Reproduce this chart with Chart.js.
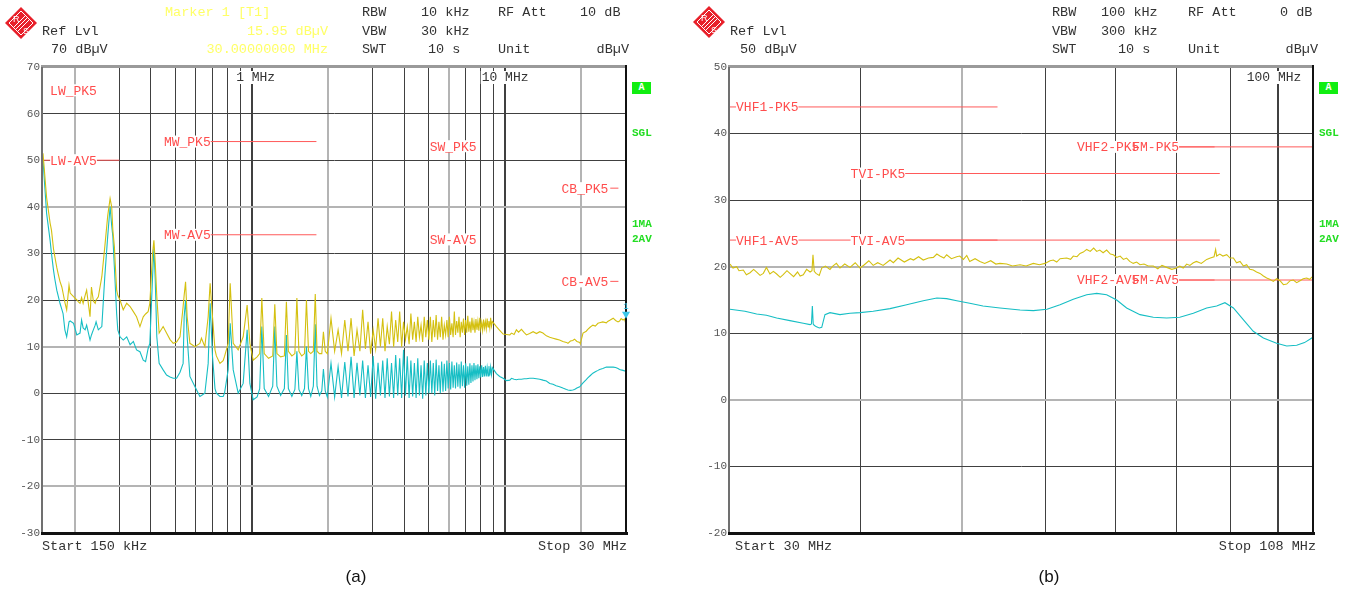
<!DOCTYPE html>
<html><head><meta charset="utf-8">
<script src="https://cdn.jsdelivr.net/npm/chart.js@4.4.1/dist/chart.umd.min.js"></script>
<style>
html,body{margin:0;padding:0;background:#fff;}
#wrap{position:relative;width:1347px;height:590px;overflow:hidden;background:#fff;}
canvas{position:absolute;top:0;}
.t{position:absolute;font-family:"Liberation Mono","DejaVu Sans Mono",monospace;font-size:13.5px;line-height:16px;color:#333;white-space:pre;}
.y{color:#ffff66;}
.g{position:absolute;font-family:"Liberation Mono",monospace;font-weight:bold;font-size:11px;line-height:12px;color:#22dd22;white-space:pre;}
.box{position:absolute;width:19px;height:12px;background:#11ee11;color:#fff;font:bold 10px "Liberation Mono",monospace;text-align:center;line-height:12px;}
.cap{position:absolute;width:40px;text-align:center;font-family:"Liberation Sans",Arial,sans-serif;font-size:17px;line-height:20px;color:#111;}
.logo{position:absolute;}
</style></head>
<body><div id="wrap">
<canvas id="ca" width="673" height="590" style="left:0"></canvas>
<canvas id="cb" width="674" height="590" style="left:673px"></canvas>

<svg class="logo" style="left:4px;top:6px" width="34" height="34" viewBox="0 0 34 34">
 <polygon points="17,1 33,17 17,33 1,17" fill="#e8202a"/>
 <polygon points="17,5 29,17 17,29 5,17" fill="none" stroke="#fff" stroke-width="1"/>
 <g stroke="#fff" stroke-width="1"><line x1="22" y1="9" x2="9" y2="22"/><line x1="24" y1="11" x2="11" y2="24"/><line x1="26" y1="13" x2="13" y2="26"/></g>
 <text x="9" y="16" font-size="9" font-family="Liberation Sans" fill="#fff">R</text>
 <text x="19" y="28" font-size="9" font-family="Liberation Sans" fill="#fff">S</text>
</svg>
<svg class="logo" style="left:692px;top:5px" width="34" height="34" viewBox="0 0 34 34">
 <polygon points="17,1 33,17 17,33 1,17" fill="#e8202a"/>
 <polygon points="17,5 29,17 17,29 5,17" fill="none" stroke="#fff" stroke-width="1"/>
 <g stroke="#fff" stroke-width="1"><line x1="22" y1="9" x2="9" y2="22"/><line x1="24" y1="11" x2="11" y2="24"/><line x1="26" y1="13" x2="13" y2="26"/></g>
 <text x="9" y="16" font-size="9" font-family="Liberation Sans" fill="#fff">R</text>
 <text x="19" y="28" font-size="9" font-family="Liberation Sans" fill="#fff">S</text>
</svg>

<div class="t" style="left:42px;top:24px">Ref Lvl</div>
<div class="t" style="left:51px;top:42px">70 dBµV</div>
<div class="t y" style="left:165px;top:5px">Marker 1 [T1]</div>
<div class="t y" style="right:1019px;top:24px">15.95 dBµV</div>
<div class="t y" style="right:1019px;top:42px">30.00000000 MHz</div>
<div class="t" style="left:362px;top:5px">RBW</div>
<div class="t" style="left:421px;top:5px">10 kHz</div>
<div class="t" style="left:498px;top:5px">RF Att</div>
<div class="t" style="left:580px;top:5px">10 dB</div>
<div class="t" style="left:362px;top:24px">VBW</div>
<div class="t" style="left:421px;top:24px">30 kHz</div>
<div class="t" style="left:362px;top:42px">SWT</div>
<div class="t" style="left:428px;top:42px">10 s</div>
<div class="t" style="left:498px;top:42px">Unit</div>
<div class="t" style="right:718px;top:42px">dBµV</div>

<div class="t" style="left:730px;top:24px">Ref Lvl</div>
<div class="t" style="left:740px;top:42px">50 dBµV</div>
<div class="t" style="left:1052px;top:5px">RBW</div>
<div class="t" style="left:1101px;top:5px">100 kHz</div>
<div class="t" style="left:1188px;top:5px">RF Att</div>
<div class="t" style="left:1280px;top:5px">0 dB</div>
<div class="t" style="left:1052px;top:24px">VBW</div>
<div class="t" style="left:1101px;top:24px">300 kHz</div>
<div class="t" style="left:1052px;top:42px">SWT</div>
<div class="t" style="left:1118px;top:42px">10 s</div>
<div class="t" style="left:1188px;top:42px">Unit</div>
<div class="t" style="right:29px;top:42px">dBµV</div>

<div class="t" style="left:42px;top:539px">Start 150 kHz</div>
<div class="t" style="right:720px;top:539px">Stop 30 MHz</div>
<div class="t" style="left:735px;top:539px">Start 30 MHz</div>
<div class="t" style="right:31px;top:539px">Stop 108 MHz</div>
<div class="cap" style="left:336px;top:567px">(a)</div>
<div class="cap" style="left:1029px;top:567px">(b)</div>

<div class="box" style="left:632px;top:82px">A</div>
<div class="g" style="left:632px;top:127px">SGL</div>
<div class="g" style="left:632px;top:218px">1MA</div>
<div class="g" style="left:632px;top:233px">2AV</div>
<div class="box" style="left:1319px;top:82px">A</div>
<div class="g" style="left:1319px;top:127px">SGL</div>
<div class="g" style="left:1319px;top:218px">1MA</div>
<div class="g" style="left:1319px;top:233px">2AV</div>
</div>
<script>
// ---------- Panel (a): 150 kHz - 30 MHz ----------
const aFreq = [
 0.150,0.155,0.160,0.162,0.165,0.167,0.170,0.172,0.175,0.178,
 0.180,0.183,0.186,0.190,0.192,0.198,0.204,0.207,0.210,0.213,
 0.216,0.220,0.223,0.230,0.233,0.237,0.241,0.243,0.248,0.256,
 0.263,0.270,0.276,0.280,0.283,0.287,0.289,0.293,0.296,0.302,
 0.311,0.321,0.331,0.341,0.351,0.362,0.373,0.381,0.390,0.396,
 0.406,0.411,0.416,0.422,0.431,0.447,0.461,0.476,0.490,0.505,
 0.521,0.536,0.541,0.548,0.556,0.570,0.597,0.624,0.633,0.653,
 0.673,0.685,0.700,0.716,0.725,0.749,0.771,0.781,0.807,0.822,
 0.845,0.884,0.925,0.959,0.983,1.013,1.050,1.075,1.096,1.120,
 1.165,1.210,1.233,1.257,1.300,1.345,1.370,1.395,1.440,1.480,
 1.507,1.535,1.575,1.615,1.644,1.675,1.710,1.750,1.781,1.810,
 1.850,1.890,1.918,1.950,1.987,2.055,2.124,2.192,2.261,2.329,
 2.398,2.466,2.535,2.603,2.672,2.740,2.809,2.877,2.946,3.014,
 3.083,3.151,3.220,3.288,3.357,3.425,3.494,3.562,3.631,3.699,
 3.768,3.836,3.905,3.973,4.042,4.110,4.179,4.247,4.316,4.384,
 4.453,4.521,4.590,4.658,4.727,4.795,4.864,4.932,5.001,5.069,
 5.138,5.206,5.275,5.343,5.412,5.480,5.549,5.617,5.686,5.754,
 5.823,5.891,5.960,6.028,6.097,6.165,6.234,6.302,6.371,6.439,
 6.508,6.576,6.645,6.713,6.782,6.850,6.919,6.987,7.056,7.124,
 7.193,7.261,7.330,7.398,7.467,7.535,7.604,7.672,7.741,7.809,
 7.878,7.946,8.015,8.083,8.152,8.220,8.289,8.357,8.426,8.494,
 8.563,8.631,8.700,8.768,8.837,8.905,9.24,9.52,9.82,10.13,
 10.43,10.6,10.85,11.08,11.3,11.6,11.9,12.14,12.5,12.9,
 13.3,13.7,14.1,14.55,15.0,15.45,15.9,16.4,16.9,17.46,
 17.7,18.1,18.5,18.8,19.2,19.7,19.8,20.3,20.9,21.2,
 21.7,22.2,22.7,23.25,23.6,24.3,25.1,25.4,26.0,26.7,
 27.3,27.9,28.3,28.7,29.2,29.6,30.0
];
const aPeak = [
 51.5,42,36.5,35,31,29.3,27,25.7,24,22.8,
 21.5,19.5,17.9,23.2,21.5,20.7,20,19.6,19.3,20.5,
 19.3,21,22.1,16.4,22.8,19.8,19.3,20,20.7,25,
 31.4,38,41.8,40,35,31.4,28,22.1,21,20,
 17.9,19.3,18.6,17.5,16.4,14.3,16.4,17,17.5,19.3,
 30,32.8,28,20.7,12.9,14.3,12.9,11.5,10.7,11,
 12.1,18.6,21,23.9,16.4,10.7,10,10.7,11.8,10,
 16.4,23.6,16.4,9.3,8,6.4,7,7.9,10.7,23.6,
 10.7,9.3,12.1,18.9,10.7,7.1,7.8,8.5,20.4,8.5,
 7.5,8,19.1,8.5,7.8,8,19.6,9,8,8.5,
 20.4,9,8,8.5,20,9,8.5,9,21.3,9,
 8.5,8.5,13.2,9,8.5,16.1,9,13.6,8.5,15.7,
 9,16.1,8,13.6,9,17.9,9.5,15.3,8.5,13.6,
 9.5,16.1,10,16.1,9,14.3,10.5,17.5,10,15.7,
 11,17.5,10,15.3,11.5,14.3,10.5,17.1,11.5,15.3,
 11,16.4,12,14.6,11,16.4,12,15.7,11.5,16.4,
 11,15.7,12,16.8,11.5,15.3,12,16.4,11.5,14.6,
 12.5,15.7,12,16.4,12.5,15,12,17.5,12.5,15.5,
 13,16.4,12,15.3,13,16,12.5,15.7,13,16.6,
 13.2,15.4,13,16.2,13.5,15.3,13,15.9,13.6,15.5,
 13.4,16.2,13.8,15.2,13.5,15.8,14,15.4,13.8,16,
 14.2,15.5,14,16.2,14.4,15.4,14.3,13.5,12.7,12.6,
 12.5,12.9,12.6,13.6,13.1,13.7,13.0,12.5,12.8,13.2,
 12.8,13.2,12.9,12.3,12.0,11.8,11.6,11.4,11.1,10.9,
 10.7,11.2,11.3,11.6,11.1,10.9,10.6,12.9,13.3,13.7,
 14.2,14.6,14.4,15,15.1,15.3,15.1,15.4,15.7,16.1,
 15.6,15.3,15.5,16.0,15.7,15.9,14.8
];
const aAverage = [
 50,38.6,32.8,30,26.4,24.5,22.1,21,19.3,18,
 17.1,13.6,12.1,15.3,15.5,15,12.5,12.7,12.9,15.7,
 14,13.6,14.6,11.4,12.5,13.6,14.6,15.3,13.6,14.3,
 25,33.6,40,36,33.6,27,23.6,17,13.6,12.1,
 11.4,12.1,10.4,11.1,9.3,8.9,7.1,6.8,9.6,10.7,
 25,31.1,24.3,12.1,6.4,5,3.9,3.5,3.2,3.2,
 4.5,6.4,16.4,20,12.1,3.6,1.4,-0.7,-0.5,0,
 6.4,19.3,7.9,1,0,-0.7,-0.7,0,5,15,
 5,0,2.1,13.6,2.1,-1.4,-0.8,1,14.3,1,
 -0.7,1.5,14.3,1.5,-0.5,1,12.5,1,-0.7,0.8,
 9,0.8,-0.5,1,10,1,-0.7,1.5,14.8,1.5,
 -0.5,0.5,5.2,0.5,-0.8,6.4,-0.8,5.7,-1,6.7,
 -0.7,7.8,-1,6.5,-0.5,7,-1,6,-0.8,8,
 -1.2,6.5,-0.5,7,-1,7.5,-0.7,6.5,-1,8.2,
 -0.5,7.5,-1,9.3,-0.5,7.9,-1,7,-0.7,6.5,
 -1,7.5,-0.5,6,-1.2,7,-0.5,6.5,0,7,
 0,6.5,-0.5,7.2,0.5,6,0,6.8,0.3,6.3,
 0.5,7,1,6.5,0.8,6.8,1.2,6,1,6.6,
 1.4,6.2,1,6.8,1.5,6,1.2,6.4,1.6,5.8,
 1.8,6.4,2.2,6,2.5,6.5,2.8,6,3,6.2,
 3.2,5.8,3.4,6,3.5,5.6,3.6,5.9,3.6,5.5,
 3.7,5.8,3.8,5.6,4,5.5,4.2,3.6,3.2,2.7,
 2.8,3.2,3.0,2.9,3.0,3,3.1,3.1,3.2,3.2,
 3.1,3,2.8,2.6,2.1,1.9,1.6,1.4,1.1,0.8,
 0.7,0.6,0.7,0.8,1.1,1.4,1.5,2.2,2.9,3.3,
 3.8,4.3,4.6,4.9,5.1,5.3,5.6,5.6,5.6,5.6,
 5.5,5.3,5.1,5.0,4.9,4.8,4.8
];
const aGridFreq = [0.2,0.3,0.4,0.5,0.6,0.7,0.8,0.9,1,2,3,4,5,6,7,8,9,10,20];
const aGridLight = [0.2,2,6,20];
const aGridBold = [1,10];
const aYLight = [40,10,-20];
const aLimitStart = [0.15,0.15,0.53,0.53,5.9,5.9,26,26];
const aLimitStop  = [0.3,0.3,1.8,1.8,6.2,6.2,28,28];
const aLimitLevel = [70,50,54,34,53,33,44,24];
const aLabelText  = ['LW_PK5','LW-AV5','MW_PK5','MW-AV5','SW_PK5','SW-AV5','CB_PK5','CB-AV5'];
const aLabelFreq  = [0.16,0.16,0.45,0.45,5.04,5.04,16.7,16.7];
const aLabelLevel = [65,50,54,34,53,33,44,24];
const aDecadeFreq = [1,10];
const aDecadeText = ['1 MHz','10 MHz'];
const aDecadePre  = ['1 ','10 '];
const markerFreq = 30, markerLevel = 15.95;

// ---------- Panel (b): 30 MHz - 108 MHz ----------
const bPeakFreq = [
 30,30.2,30.44,30.6,30.89,31.1,31.35,31.6,31.81,32.05,
 32.28,32.5,32.75,33.0,33.24,33.5,33.72,34.0,34.22,34.5,
 34.8,35.0,35.24,35.5,35.77,35.92,36.0,36.1,36.24,36.5,
 36.7,37.0,37.37,37.6,37.9,38.2,38.6,39.05,39.5,39.92,
 40.3,40.7,41.09,41.5,42.0,42.64,42.95,43.4,44.0,44.6,
 44.9,45.4,45.87,46.4,46.9,47.26,47.58,48.0,48.29,48.8,
 49.37,49.7,50.1,50.47,50.8,51.4,51.95,52.5,53.2,53.8,
 54.29,55.1,55.8,56.74,57.5,58.42,59.2,59.94,60.6,61.04,
 61.5,61.95,62.87,63.4,63.78,64.3,64.73,65.2,65.69,66.2,
 66.7,67.15,67.6,68.1,68.63,69.2,69.65,70.16,70.7,71.2,
 71.71,72.2,72.76,73.3,73.85,74.5,75.2,76.04,76.8,77.5,
 78.31,79.2,80.04,80.6,81.2,81.83,82.4,83.03,83.6,84.5,
 85.5,86.2,86.9,87.2,87.4,88.0,88.6,89.35,90.0,90.67,
 91.3,92.0,92.7,93.35,94.0,94.72,95.4,96.13,96.85,97.55,
 98.2,98.98,99.7,100.45,101.2,101.94,102.7,103.43,104.2,104.96,
 105.7,106.5,107.2,108
];
const bPeak = [
 20.4,19.8,20,19.4,19.5,18.8,19.1,19.6,19.2,18.7,
 19,19.9,18.9,19.3,18.9,18.4,18.8,19.4,19,18.5,
 19.2,18.6,18.8,19.6,19.2,19.4,21.8,19.3,19,18.7,
 19.8,20.1,19.6,20.1,20.5,19.8,20.4,19.9,20.6,19.8,
 20.3,20.9,20.2,20.6,20.2,21,20.6,21.3,20.7,21.2,
 21,21.5,21,21.3,21.4,21.9,21.6,21.3,21.8,21.2,
 21.5,21.6,21.1,21.7,20.8,21.2,20.8,20.5,20.9,20.4,
 20.5,20.4,20.1,20.3,20.1,20.5,20.3,20.5,20.9,21,
 20.7,21.2,21.3,21.1,21.6,21.5,22,22.2,22.6,22.3,
 22.8,22.3,22.5,22.1,22.5,21.9,21.8,21.4,21.6,21.1,
 21.3,20.8,20.5,20.7,20.3,20.4,20.1,20.1,19.7,20.2,
 19.9,19.6,19.8,20.1,19.8,20.4,20.2,20.6,20.8,20.5,
 21.1,21.3,21.5,22.6,21.6,21.9,21.6,21.8,21.3,21.3,
 20.6,20.8,20.1,20.3,19.6,19.5,19.2,19,18.6,18.3,
 18.1,17.8,18.2,17.9,17.3,17.4,17.9,18,17.6,17.9,
 18.2,18.3,18.1,18.6
];
const bAverageFreq = [
 30,31.0,31.81,32.5,33.24,34.22,35.24,35.77,35.88,35.95,
 36.02,36.1,36.24,36.5,36.7,36.96,37.37,38.2,39.05,39.92,
 41.09,42.64,44.23,45.87,47.26,48.29,49.37,50.8,52.3,54.29,
 56.74,58.42,60.2,61.95,63.78,65.69,67.15,68.63,70.16,71.71,
 73.85,76.04,78.31,80.6,83.03,85.5,87.4,89.0,90.67,92.7,
 94.72,96.85,99.7,101.94,104.2,106.0,108
];
const bAverage = [
 13.6,13.3,12.9,12.7,12.3,11.9,11.5,11.3,11.4,14.1,
 11.4,11.2,11,10.8,10.9,12.8,13.1,12.8,13,13.1,
 13.3,13.7,14.3,14.9,15.3,15.2,14.9,14.5,14.1,13.8,
 13.5,13.4,13.6,14.3,15.1,15.8,16,15.8,15,13.8,
 12.8,12.4,12.3,12.4,13,13.8,14.1,14.6,13.8,12,
 10.3,9.3,8.5,8.1,8.2,8.6,9.4
];
const bGridFreq = [40,50,60,70,80,90,100];
const bGridLight = [50];
const bGridBold = [100];
const bYLight = [20,0];
const bLimitStart = [30,30,41,41,68,68,76,76];
const bLimitStop  = [54,54,88,88,87,87,108,108];
const bLimitLevel = [44,24,34,24,38,18,38,18];
const bLabelText  = ['VHF1-PK5','VHF1-AV5','TVI-PK5','TVI-AV5','VHF2-PK5','VHF2-AV5','FM-PK5','FM-AV5'];
const bLabelFreq  = [30.4,30.4,39.1,39.1,64.3,64.3,72.6,72.6];
const bLabelLevel = [44,24,34,24,38,18,38,18];
const bDecadeFreq = [100];
const bDecadeText = ['100 MHz'];
const bDecadePre  = ['100 '];

// ---------- drawing ----------
const YEL = '#d4c010', CYAN = '#16bec4', RED = '#ff5a5a', LABELRED = '#ff4d4d';
const MONO = '"Liberation Mono", "DejaVu Sans Mono", monospace';

function pts(xs, ys){ return xs.map((x,i)=>({x:x, y:ys[i]})); }
function limitSets(st, sp, lv){
  return lv.map((l,i)=>({data:[{x:st[i],y:l},{x:sp[i],y:l}], borderColor:RED, borderWidth:1,
    pointRadius:0, order:3, tension:0}));
}

function panelPlugin(o){
  return {
    id:'panel_'+o.key,
    afterDatasetsDraw(chart){
      const ctx = chart.ctx, a = chart.chartArea, x = chart.scales.x, y = chart.scales.y;
      ctx.save();
      ctx.font = '13px ' + MONO;
      ctx.textBaseline = 'middle';
      ctx.textAlign = 'left';
      o.decFreq.forEach((f,i)=>{
        const px = x.getPixelForValue(f);
        const pre = ctx.measureText(o.decPre[i]).width;
        const w = ctx.measureText(o.decText[i]).width;
        const lx = px - pre, cy = a.top + 10;
        ctx.fillStyle = '#fff'; ctx.fillRect(lx-1, cy-6, w+2, 13);
        ctx.fillStyle = '#333'; ctx.fillText(o.decText[i], lx, cy+1);
      });
      const lab = o.labText.map((t,i)=>({t:t, x:x.getPixelForValue(o.labFreq[i]),
        y:y.getPixelForValue(o.labLevel[i]), w:ctx.measureText(t).width}));
      ctx.fillStyle = '#fff';
      lab.forEach(p=>ctx.fillRect(p.x, p.y-6, p.w, 12));
      ctx.fillStyle = LABELRED;
      lab.forEach(p=>ctx.fillText(p.t, p.x, p.y+1));
      ctx.restore();
    },
    afterDraw(chart){
      const ctx = chart.ctx, a = chart.chartArea, x = chart.scales.x, y = chart.scales.y;
      const w = a.right - a.left, h = a.bottom - a.top;
      ctx.save();
      ctx.fillStyle = '#9a9a9a'; ctx.fillRect(a.left-2, a.top-2, w+3, 3);
      ctx.fillStyle = '#707070'; ctx.fillRect(a.left-2, a.top, 2, h);
      ctx.fillStyle = '#111'; ctx.fillRect(a.left-2, a.bottom-1, w+4, 3);
      ctx.fillStyle = '#111'; ctx.fillRect(a.right-1, a.top-2, 2, h+3);
      if (o.marker){
        const mx = x.getPixelForValue(o.marker[0]), my = y.getPixelForValue(o.marker[1]);
        ctx.fillStyle = '#3cc8ea';
        ctx.beginPath(); ctx.moveTo(mx-4, my-7); ctx.lineTo(mx+4, my-7); ctx.lineTo(mx, my); ctx.closePath(); ctx.fill();
        ctx.font = '9px ' + MONO; ctx.textAlign = 'center'; ctx.textBaseline = 'middle';
        ctx.fillText('1', mx, my-12);
      }
      ctx.restore();
    }
  };
}

function build(id, o){
  const inList = (arr, c) => !!(c.tick && arr.some(v => Math.abs(v - c.tick.value) < 1e-9));
  return new Chart(document.getElementById(id), {
    type:'line',
    data:{datasets:[
      {data:pts(o.pkF, o.pk), borderColor:YEL, borderWidth:1.1, pointRadius:0, order:1, tension:0},
      {data:pts(o.avF, o.av), borderColor:CYAN, borderWidth:1.1, pointRadius:0, order:2, tension:0}
    ].concat(limitSets(o.limSt, o.limSp, o.limLv))},
    options:{
      responsive:false, animation:false, events:[],
      layout:{padding:{left:o.padL, right:o.padR, top:67, bottom:57}},
      plugins:{legend:{display:false}, tooltip:{enabled:false}},
      scales:{
        x:{type:'logarithmic', min:o.xmin, max:o.xmax,
          ticks:{display:false}, border:{display:false},
          grid:{drawTicks:false,
            color:c => inList(o.gLight, c) ? '#b4b4b4' : '#404040',
            lineWidth:c => (inList(o.gLight, c) || inList(o.gBold, c)) ? 2 : 1},
          afterBuildTicks:s => { s.ticks = o.grid.map(v=>({value:v})); },
          afterFit:s => { s.height = 0; }},
        y:{min:o.ymin, max:o.ymax,
          ticks:{stepSize:10, color:'#555', font:{family:MONO, size:11}, padding:3},
          border:{display:false},
          grid:{drawTicks:false,
            color:c => inList(o.yLight, c) ? '#b4b4b4' : '#404040',
            lineWidth:c => inList(o.yLight, c) ? 2 : 1},
          afterFit:s => { s.width = 43; }}
      }
    },
    plugins:[panelPlugin(o)]
  });
}

build('ca', {key:'a', pkF:aFreq, pk:aPeak, avF:aFreq, av:aAverage,
  limSt:aLimitStart, limSp:aLimitStop, limLv:aLimitLevel,
  labText:aLabelText, labFreq:aLabelFreq, labLevel:aLabelLevel,
  decFreq:aDecadeFreq, decText:aDecadeText, decPre:aDecadePre,
  grid:aGridFreq, gLight:aGridLight, gBold:aGridBold, yLight:aYLight,
  xmin:0.15, xmax:30, ymin:-30, ymax:70, padL:0, padR:47, marker:[markerFreq, markerLevel]});

build('cb', {key:'b', pkF:bPeakFreq, pk:bPeak, avF:bAverageFreq, av:bAverage,
  limSt:bLimitStart, limSp:bLimitStop, limLv:bLimitLevel,
  labText:bLabelText, labFreq:bLabelFreq, labLevel:bLabelLevel,
  decFreq:bDecadeFreq, decText:bDecadeText, decPre:bDecadePre,
  grid:bGridFreq, gLight:bGridLight, gBold:bGridBold, yLight:bYLight,
  xmin:30, xmax:108, ymin:-20, ymax:50, padL:14, padR:34, marker:null});
</script>
</body></html>
